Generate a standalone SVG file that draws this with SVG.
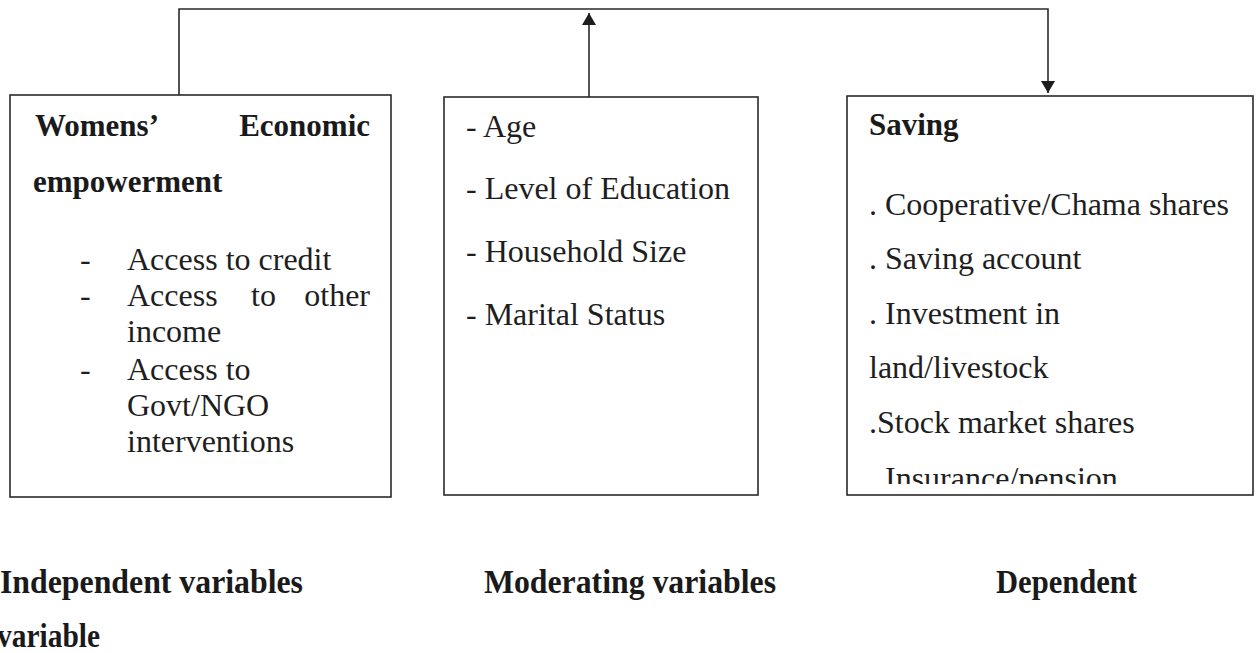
<svg xmlns="http://www.w3.org/2000/svg" width="1260" height="653" viewBox="0 0 1260 653">
  <style>
    .box { fill: #ffffff; stroke: #2a2a2a; stroke-width: 1.6; }
    .conn { fill: none; stroke: #2a2a2a; stroke-width: 1.6; }
    .t { font-family: "Liberation Serif", "Times New Roman", serif; font-size: 32px; fill: #1e1e1e; }
    .b { font-family: "Liberation Serif", "Times New Roman", serif; font-size: 31px; font-weight: bold; fill: #1a1a1a; }
    .lab { font-family: "Liberation Serif", "Times New Roman", serif; font-size: 33px; font-weight: bold; fill: #1a1a1a; }
  </style>
  <defs>
    <marker id="arrow" viewBox="0 0 12 16" refX="12" refY="8" markerWidth="12" markerHeight="16" markerUnits="userSpaceOnUse" orient="auto">
      <path d="M0,1 L12,8 L0,15 Z" fill="#1e1e1e"/>
    </marker>
    <clipPath id="clipSaving">
      <rect x="847" y="96" width="406" height="388"/>
    </clipPath>
  </defs>
  <rect width="1260" height="653" fill="#ffffff"/>

  <!-- connectors -->
  <g id="connectors">
    <path class="conn" d="M179,95 V9 H1048 V93" marker-end="url(#arrow)"/>
    <path class="conn" d="M589,97 V13" marker-end="url(#arrow)"/>
  </g>

  <!-- independent variable box -->
  <g id="node-independent">
    <rect class="box" x="10" y="95" width="381" height="402"/>
    <text class="b" x="35" y="136">Womens’</text>
    <text class="b" x="370" y="136" text-anchor="end">Economic</text>
    <text class="b" x="33" y="192">empowerment</text>
    <text class="t" x="80" y="270">-</text>
    <text class="t" x="127" y="270">Access to credit</text>
    <text class="t" x="80" y="306">-</text>
    <text class="t" x="127" y="306">Access</text>
    <text class="t" x="251" y="306">to</text>
    <text class="t" x="370" y="306" text-anchor="end">other</text>
    <text class="t" x="127" y="342">income</text>
    <text class="t" x="80" y="380">-</text>
    <text class="t" x="127" y="380">Access to</text>
    <text class="t" x="127" y="416">Govt/NGO</text>
    <text class="t" x="127" y="452">interventions</text>
  </g>

  <!-- moderating variable box -->
  <g id="node-moderating">
    <rect class="box" x="444" y="97" width="314" height="398"/>
    <text class="t" x="466" y="137">- Age</text>
    <text class="t" x="466" y="199">- Level of Education</text>
    <text class="t" x="466" y="262">- Household Size</text>
    <text class="t" x="466" y="325">- Marital Status</text>
  </g>

  <!-- dependent variable box -->
  <g id="node-dependent">
    <rect class="box" x="847" y="96" width="406" height="399"/>
    <text class="b" x="869" y="135">Saving</text>
    <g clip-path="url(#clipSaving)">
      <text class="t" x="869" y="215">. Cooperative/Chama shares</text>
      <text class="t" x="869" y="269">. Saving account</text>
      <text class="t" x="869" y="324">. Investment in</text>
      <text class="t" x="869" y="378">land/livestock</text>
      <text class="t" x="869" y="433">.Stock market shares</text>
      <text class="t" x="869" y="489">. Insurance/pension</text>
    </g>
  </g>

  <!-- column labels -->
  <g id="labels">
    <text class="lab" x="0" y="593" textLength="303" lengthAdjust="spacingAndGlyphs">Independent variables</text>
    <text class="lab" x="-3" y="647" textLength="103" lengthAdjust="spacingAndGlyphs">variable</text>
    <text class="lab" x="484" y="593" textLength="292" lengthAdjust="spacingAndGlyphs">Moderating variables</text>
    <text class="lab" x="996" y="593" textLength="141" lengthAdjust="spacingAndGlyphs">Dependent</text>
  </g>
</svg>
